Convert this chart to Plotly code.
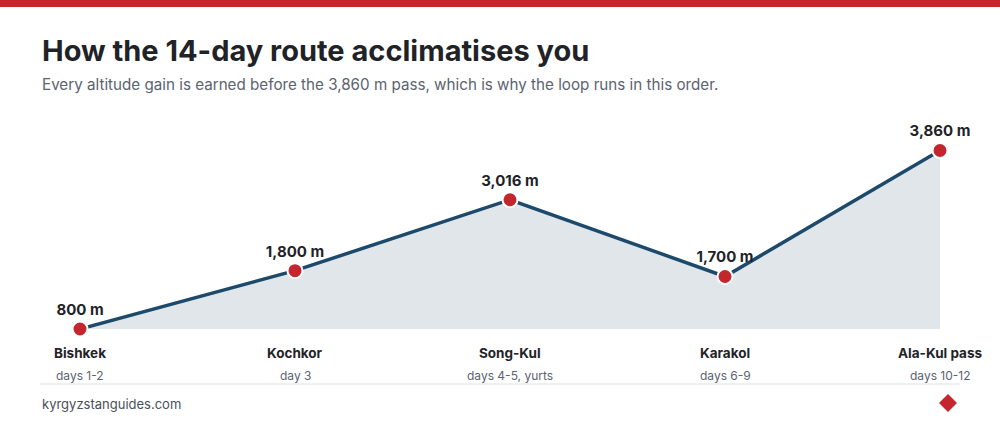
import plotly.graph_objects as go

# route stops, altitude (m) and day ranges
stops = ['Bishkek', 'Kochkor', 'Song-Kul', 'Karakol', 'Ala-Kul pass']
altitudes = [800, 1800, 3016, 1700, 3860]
days = ['days 1-2', 'day 3', 'days 4-5, yurts', 'days 6-9', 'days 10-12']

RED = '#c4262e'
NAVY = '#1d4a6a'
INK = '#1f2328'
GREY = '#5b6370'

W, H = 1000, 430
M_L, M_R, M_T, M_B = 80, 60, 119, 101
PLOT_W = W - M_L - M_R
PLOT_H = H - M_T - M_B


def px(x):
    # pixel x -> paper x
    return (x - M_L) / PLOT_W


def py(y):
    # pixel y (from top) -> paper y
    return (H - M_B - y) / PLOT_H


xs = list(range(len(stops)))

fig = go.Figure()
fig.add_trace(go.Scatter(
    x=xs, y=altitudes, mode='lines',
    fill='tozeroy', fillcolor='#e1e6eb',
    line=dict(color=NAVY, width=3.5),
    hoverinfo='skip', showlegend=False,
))
fig.add_trace(go.Scatter(
    x=xs, y=altitudes, mode='markers+text',
    marker=dict(color=RED, size=15, line=dict(color='white', width=2)),
    text=[f'<b>{a:,} m</b>' for a in altitudes],
    textposition='top center',
    textfont=dict(family='Inter', size=15, color=INK),
    cliponaxis=False, showlegend=False,
    hovertemplate='%{customdata}: %{y:,} m<extra></extra>',
    customdata=stops,
))

annotations = [
    dict(text='<b>How the 14-day route acclimatises you</b>', x=px(40), y=py(50),
         xanchor='left', yanchor='middle', font=dict(size=29, color=INK)),
    dict(text='Every altitude gain is earned before the 3,860 m pass, which is why the loop runs in this order.',
         x=px(40), y=py(85), xanchor='left', yanchor='middle', font=dict(size=15.2, color=GREY)),
    dict(text='kyrgyzstanguides.com', x=px(40), y=py(404),
         xanchor='left', yanchor='middle', font=dict(size=13, color='#4a5059')),
]
for i, (name, d) in enumerate(zip(stops, days)):
    annotations.append(dict(text=f'<b>{name}</b>', x=i, xref='x', y=py(353),
                            xanchor='center', yanchor='middle',
                            font=dict(size=13.5, color=INK)))
    annotations.append(dict(text=d, x=i, xref='x', y=py(375),
                            xanchor='center', yanchor='middle',
                            font=dict(size=12, color=GREY)))
for a in annotations:
    a.setdefault('xref', 'paper')
    a['yref'] = 'paper'
    a['showarrow'] = False

dx, dy = 9 / PLOT_W, 9 / PLOT_H
cx, cy = px(948), py(403)
shapes = [
    dict(type='rect', xref='paper', yref='paper', x0=px(0), x1=px(W), y0=py(7), y1=py(0),
         fillcolor=RED, line=dict(width=0)),
    dict(type='line', xref='paper', yref='paper', x0=px(40), x1=px(960), y0=py(384), y1=py(384),
         line=dict(color='#eef0f2', width=2)),
    dict(type='path', xref='paper', yref='paper',
         path=f'M {cx},{cy + dy} L {cx + dx},{cy} L {cx},{cy - dy} L {cx - dx},{cy} Z',
         fillcolor=RED, line=dict(width=0)),
]

fig.update_xaxes(range=[0, len(stops) - 1], visible=False, fixedrange=True)
fig.update_yaxes(range=[800, 4400], visible=False, fixedrange=True)
fig.update_layout(
    width=W, height=H,
    margin=dict(l=M_L, r=M_R, t=M_T, b=M_B, pad=0),
    paper_bgcolor='white', plot_bgcolor='white',
    font=dict(family='Inter, Roboto, sans-serif'),
    annotations=annotations, shapes=shapes,
    showlegend=False,
)
fig.write_html('out.html', config={'displayModeBar': False},
               post_script="document.body.style.margin='0';")
